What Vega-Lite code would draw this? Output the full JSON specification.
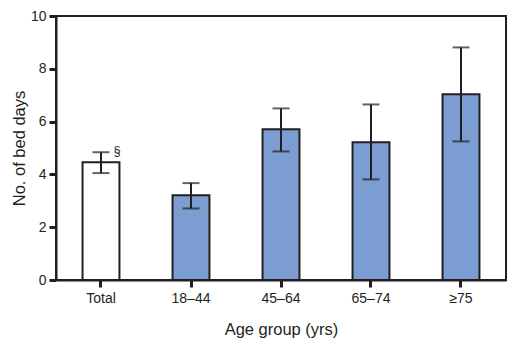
{
  "$schema": "https://vega.github.io/schema/vega-lite/v6.json",
  "width": 450,
  "height": 264,
  "autosize": {"type": "none"},
  "padding": {"left": 56, "top": 16, "right": 21, "bottom": 62},
  "background": "white",
  "config": {
    "view": {"stroke": "#231f20", "strokeWidth": 2},
    "font": "Liberation Sans",
    "axis": {
      "domainColor": "#231f20", "domainWidth": 2,
      "tickColor": "#231f20", "tickWidth": 3, "tickSize": 7,
      "labelColor": "#231f20", "labelFontSize": 14, "labelFont": "Liberation Sans",
      "titleColor": "#231f20", "titleFontSize": 16.5, "titleFontWeight": "normal", "titleFont": "Liberation Sans",
      "grid": false
    }
  },
  "data": {
    "values": [
      {"group": "Total", "value": 4.46, "lower": 4.05, "upper": 4.84, "kind": "total", "note": "§"},
      {"group": "18–44", "value": 3.21, "lower": 2.71, "upper": 3.67, "kind": "age", "note": ""},
      {"group": "45–64", "value": 5.71, "lower": 4.87, "upper": 6.5, "kind": "age", "note": ""},
      {"group": "65–74", "value": 5.22, "lower": 3.81, "upper": 6.65, "kind": "age", "note": ""},
      {"group": "≥75", "value": 7.04, "lower": 5.25, "upper": 8.81, "kind": "age", "note": ""}
    ]
  },
  "encoding": {
    "x": {
      "field": "group", "type": "nominal", "sort": null,
      "scale": {"paddingInner": 0.59, "paddingOuter": 0.295},
      "axis": {"title": "Age group (yrs)", "labelAngle": 0, "labelPadding": 4, "titlePadding": 16}
    }
  },
  "layer": [
    {
      "mark": {"type": "bar", "stroke": "#231f20", "strokeWidth": 2},
      "encoding": {
        "y": {
          "field": "value", "type": "quantitative",
          "scale": {"domain": [0, 10]},
          "axis": {"title": "No. of bed days", "values": [0, 2, 4, 6, 8, 10], "labelPadding": 3, "titlePadding": 3}
        },
        "fill": {
          "field": "kind", "type": "nominal",
          "scale": {"domain": ["total", "age"], "range": ["#ffffff", "#7b9dd1"]},
          "legend": null
        }
      }
    },
    {
      "mark": {"type": "rule", "stroke": "#231f20", "strokeWidth": 2},
      "encoding": {
        "y": {"field": "lower", "type": "quantitative"},
        "y2": {"field": "upper"}
      }
    },
    {
      "mark": {"type": "tick", "color": "#231f20", "size": 17, "thickness": 2, "orient": "horizontal"},
      "encoding": {"y": {"field": "lower", "type": "quantitative"}}
    },
    {
      "mark": {"type": "tick", "color": "#231f20", "size": 17, "thickness": 2, "orient": "horizontal"},
      "encoding": {"y": {"field": "upper", "type": "quantitative"}}
    },
    {
      "mark": {"type": "text", "color": "#231f20", "fontSize": 13, "dx": 16, "dy": -1, "font": "Liberation Sans"},
      "encoding": {
        "y": {"field": "upper", "type": "quantitative"},
        "text": {"field": "note"}
      }
    }
  ]
}
